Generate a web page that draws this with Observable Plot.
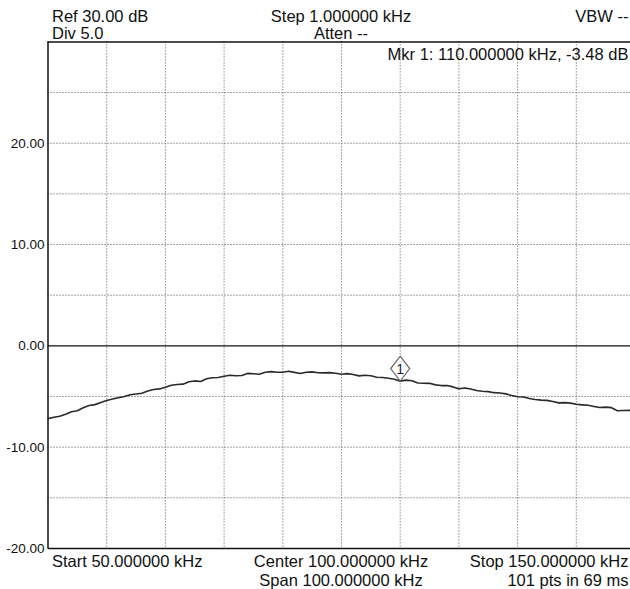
<!DOCTYPE html>
<html>
<head>
<meta charset="utf-8">
<script src="https://cdn.jsdelivr.net/npm/d3@7"></script>
<script src="https://cdn.jsdelivr.net/npm/@observablehq/plot@0.6"></script>
<style>
  html, body { margin: 0; padding: 0; background: #fff; overflow: hidden; }
  #wrap { position: relative; width: 630px; height: 589px; overflow: hidden; font-family: "Liberation Sans", Arial, sans-serif; }
  #chart { position: absolute; left: 0; top: 0; }
  .t { position: absolute; font-size: 16.5px; line-height: 1; color: #111; white-space: pre; }
  .l { left: 52px; }
  .c { left: 341px; transform: translateX(-50%); }
  .r { right: 1.5px; }
</style>
</head>
<body>
<div id="wrap">
  <div id="chart"></div>
  <div class="t l" style="top:8px">Ref 30.00 dB</div>
  <div class="t l" style="top:25px">Div 5.0</div>
  <div class="t c" style="top:8px">Step 1.000000 kHz</div>
  <div class="t c" style="top:25px">Atten --</div>
  <div class="t r" style="top:8px">VBW --</div>
  <div class="t r" style="top:46px">Mkr 1: 110.000000 kHz, -3.48 dB</div>
  <div class="t l" style="top:553px">Start 50.000000 kHz</div>
  <div class="t c" style="top:553px">Center 100.000000 kHz</div>
  <div class="t c" style="top:572px">Span 100.000000 kHz</div>
  <div class="t r" style="top:553px">Stop 150.000000 kHz</div>
  <div class="t r" style="top:572px">101 pts in 69 ms</div>
</div>
<script>
// Frequencies (kHz) and trace levels (dB)
const freqs = d3.range(50, 151, 1);
const levels = [
  -7.18, -7.05, -6.95, -6.75, -6.50, -6.40, -6.10, -5.88, -5.80, -5.60,
  -5.40, -5.25, -5.12, -5.00, -4.82, -4.75, -4.68, -4.45, -4.30, -4.25,
  -4.08, -3.88, -3.82, -3.78, -3.55, -3.46, -3.52, -3.25, -3.15, -3.13,
  -3.00, -2.90, -2.95, -2.92, -2.72, -2.75, -2.80, -2.60, -2.54, -2.60,
  -2.60, -2.50, -2.62, -2.72, -2.60, -2.57, -2.65, -2.67, -2.64, -2.70,
  -2.80, -2.74, -2.82, -2.96, -2.90, -2.95, -3.10, -3.13, -3.20, -3.30,
  -3.48, -3.38, -3.45, -3.66, -3.69, -3.70, -3.85, -3.92, -3.92, -4.05,
  -4.24, -4.16, -4.25, -4.41, -4.48, -4.52, -4.62, -4.66, -4.74, -4.90,
  -5.02, -5.05, -5.20, -5.30, -5.36, -5.38, -5.50, -5.63, -5.60, -5.65,
  -5.77, -5.82, -5.86, -5.98, -6.09, -6.05, -6.10, -6.40, -6.38, -6.36,
  -6.40
];
const yLabelTicks = [-20, -10, 0, 10, 20];
const yDottedGrid = [-15, -10, -5, 5, 10, 15, 20, 25];
const xDottedGrid = [60, 70, 80, 90, 100, 110, 120, 130, 140];
const markerFreq = [110];
const markerLevel = [-3.48];
const markerLabel = ["1"];

const trace = freqs.map((f, i) => ({f, v: levels[i]}));
const marker = markerFreq.map((f, i) => ({f, v: markerLevel[i], label: markerLabel[i]}));

const diamond = {
  draw(ctx) {
    const w = 9.5, h = 12.5;
    ctx.moveTo(0, -h);
    ctx.lineTo(w, 0);
    ctx.lineTo(0, h);
    ctx.lineTo(-w, 0);
    ctx.closePath();
  }
};

const chart = Plot.plot({
  width: 630,
  height: 589,
  marginLeft: 47.5,
  marginRight: 0,
  marginTop: 41.4,
  marginBottom: 41,
  style: {fontFamily: "'Liberation Sans', Arial, sans-serif", background: "white", overflow: "hidden"},
  x: {domain: [50, 150], range: [47.5, 634.5], axis: null},
  y: {domain: [-20, 30], range: [548, 41.4]},
  marks: [
    Plot.ruleY(yDottedGrid, {stroke: "#444", strokeDasharray: "1,2", strokeWidth: 1}),
    Plot.ruleX(xDottedGrid, {stroke: "#555", strokeDasharray: "1,2", strokeWidth: 1}),
    Plot.ruleY([0], {stroke: "#111", strokeWidth: 1.4}),
    Plot.ruleY([30], {stroke: "#111", strokeWidth: 1.5}),
    Plot.ruleY([-20], {stroke: "#111", strokeWidth: 1.5}),
    Plot.ruleX([50], {stroke: "#111", strokeWidth: 1.5}),
    Plot.line(trace, {x: "f", y: "v", stroke: "#2a2a2a", strokeWidth: 1.6}),
    Plot.dot(marker, {x: "f", y: "v", symbol: diamond, r: 5, fill: "white", stroke: "#666", strokeWidth: 1.2, dy: -12.5}),
    Plot.text(marker, {x: "f", y: "v", text: "label", dy: -12, fontSize: 14, fill: "#1a1a3a"}),
    Plot.axisY({ticks: yLabelTicks, tickSize: 0, tickPadding: 3.5, fontSize: 13.5, fill: "#111",
      tickFormat: d => d.toFixed(2), label: null})
  ]
});
document.getElementById("chart").appendChild(chart);
</script>
</body>
</html>
